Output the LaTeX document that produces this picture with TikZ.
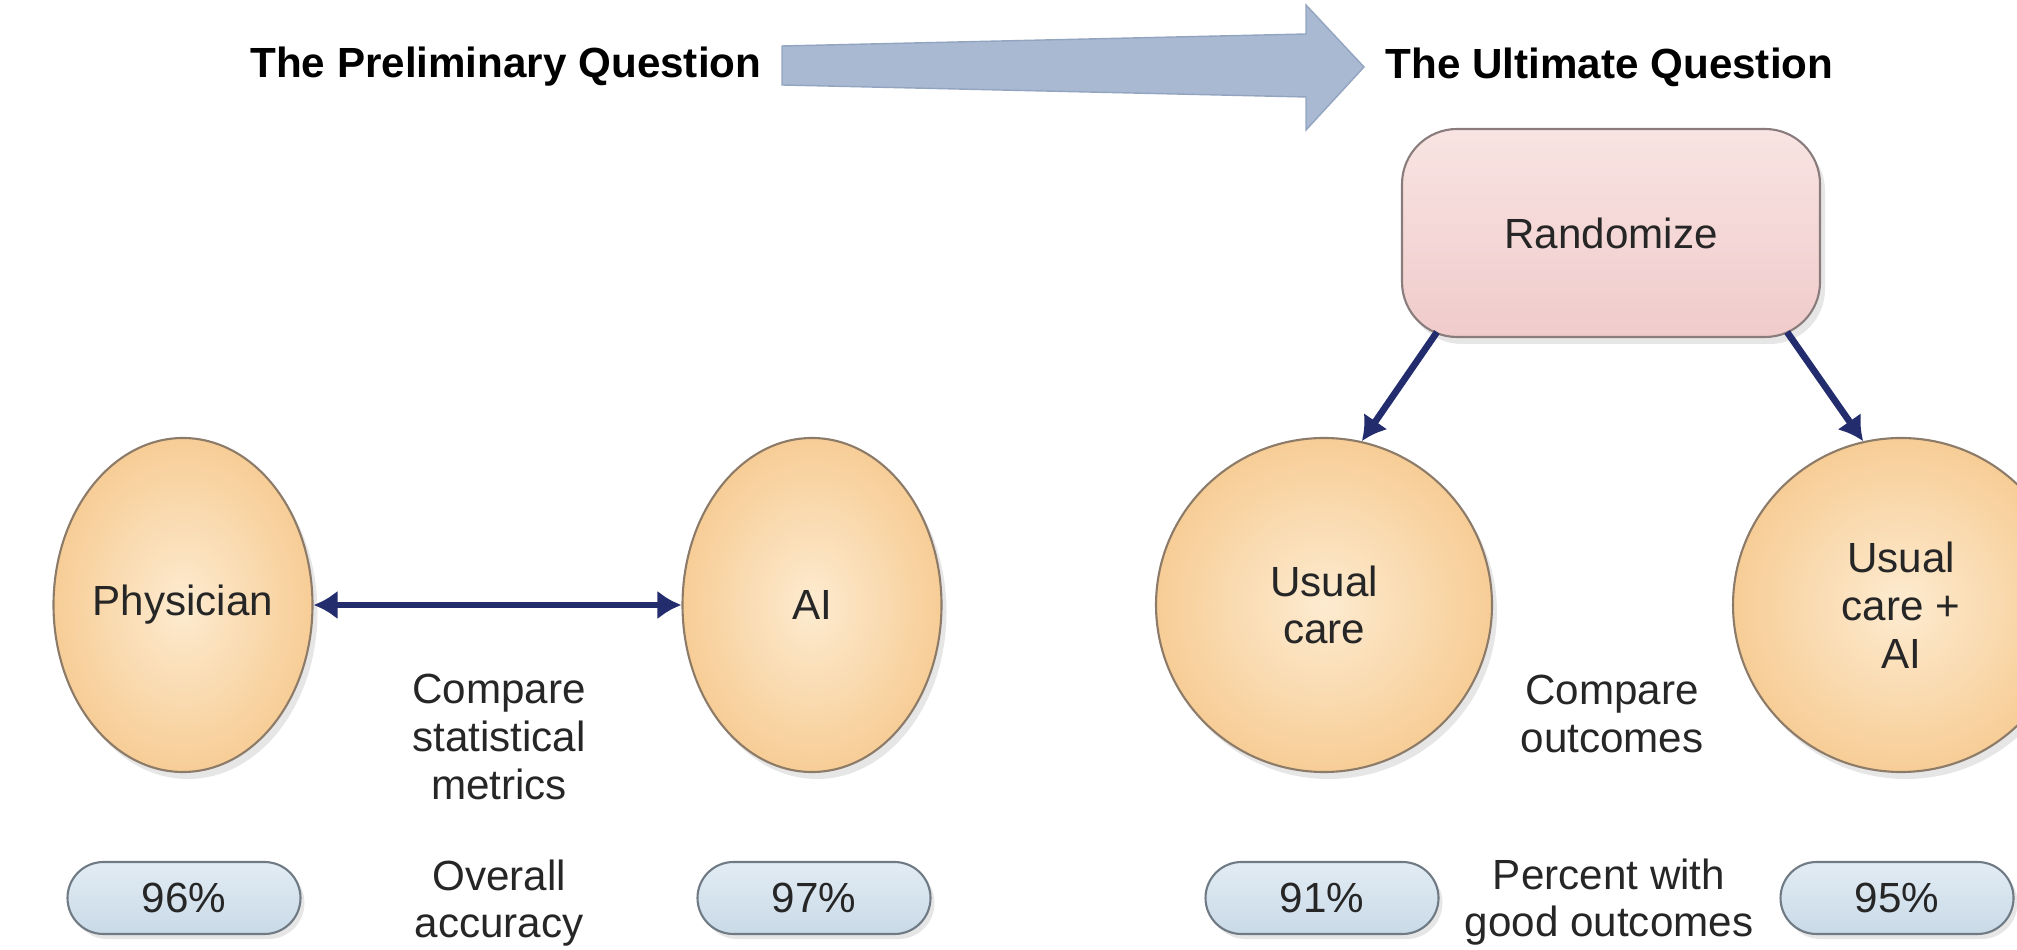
\documentclass[tikz,border=0pt]{standalone}
\usepackage{fontspec}
\setmainfont{Liberation Sans}
\usetikzlibrary{shapes.geometric,shapes.misc,arrows.meta,shadows}
\definecolor{peachin}{HTML}{FDEBD0}
\definecolor{peachout}{HTML}{F7CD96}
\definecolor{ovaledge}{HTML}{8C7B68}
\definecolor{pilltop}{HTML}{E2ECF4}
\definecolor{pillbot}{HTML}{C9DAE7}
\definecolor{pilledge}{HTML}{6F7A84}
\definecolor{randtop}{HTML}{F8E4E2}
\definecolor{randbot}{HTML}{F0CBCB}
\definecolor{randedge}{HTML}{8A7C7C}
\definecolor{navy}{HTML}{232C6C}
\definecolor{bigarrow}{HTML}{A9B9D2}
\definecolor{bigarrowedge}{HTML}{93A4C0}
\definecolor{txtcol}{HTML}{262626}
\begin{document}
\begin{tikzpicture}[x=0.1mm,y=-0.1mm,
  lbl/.style={font=\fontsize{12}{13.6}\selectfont, text=txtcol, align=center},
  heading/.style={font=\fontsize{12}{14}\selectfont\bfseries, text=black, inner sep=0pt},
  oval/.style={ellipse, draw=ovaledge, line width=0.6pt, inner color=peachin, outer color=peachout,
     drop shadow={opacity=0.2, shadow xshift=0.5mm, shadow yshift=-0.7mm},
     inner sep=0pt, lbl},
  pill/.style={rounded rectangle, draw=pilledge, line width=0.6pt, top color=pilltop, bottom color=pillbot,
     minimum width=23.3mm, minimum height=7.2mm, inner sep=0pt,
     drop shadow={opacity=0.2, shadow xshift=0.4mm, shadow yshift=-0.5mm}, lbl},
  randbox/.style={rectangle, rounded corners=5.5mm, draw=randedge, line width=0.6pt, top color=randtop, bottom color=randbot,
     minimum width=41.8mm, minimum height=20.8mm,
     drop shadow={opacity=0.2, shadow xshift=0.5mm, shadow yshift=-0.7mm}, lbl},
  navyarrow/.style={draw=navy, line width=1.9pt, -{Latex[length=2.4mm,width=2.9mm]}},
  navydouble/.style={draw=navy, line width=1.9pt, {Latex[length=2.4mm,width=2.9mm]}-{Latex[length=2.4mm,width=2.9mm]}}
]
\useasboundingbox (0,0) rectangle (2017,950);
\clip (0,0) rectangle (2017,950);

% headings and big arrow
\node[heading, anchor=east] (prelim) at (762,67) {The Preliminary Question};
\node[heading, anchor=west] (ultimate) at (1385,67) {The Ultimate Question};
\filldraw[fill=bigarrow, draw=bigarrowedge, line width=0.4pt]
  (782,46) -- (1306,34) -- (1306,5) -- (1364,67) -- (1306,130) -- (1306,97) -- (782,85) -- cycle;

% left part
\node[oval, minimum width=25.9mm, minimum height=33.4mm] (phys) at (183,605) {Physician};
\node[oval, minimum width=25.9mm, minimum height=33.4mm] (ai) at (812,605) {AI};
\draw[navydouble] (phys.east) -- (ai.west);
\node[lbl] (cmpstat) at (499,737) {Compare\\statistical\\metrics};
\node[pill] (p96) at (184,898) {96\%};
\node[pill] (p97) at (814,898) {97\%};
\node[lbl] (overall) at (499,903) {Overall\\accuracy};

% right part
\node[randbox] (rand) at (1611,233) {Randomize};
\node[oval, minimum width=33.6mm, minimum height=33.4mm] (uc) at (1324,605) {Usual\\care};
\node[oval, minimum width=33.6mm, minimum height=33.4mm] (ucai) at (1901,605) {Usual\\care +\\AI};
\draw[navyarrow] ([xshift=3.6mm,yshift=0.6mm]rand.south west) -- (uc.77);
\draw[navyarrow] ([xshift=-3.4mm,yshift=0.6mm]rand.south east) -- (ucai.103);
\node[lbl] (cmpout) at (1612,714) {Compare\\outcomes};
\node[pill] (p91) at (1322,898) {91\%};
\node[pill] (p95) at (1897,898) {95\%};
\node[lbl] (pct) at (1609,902) {Percent with\\good outcomes};
\end{tikzpicture}
\end{document}
